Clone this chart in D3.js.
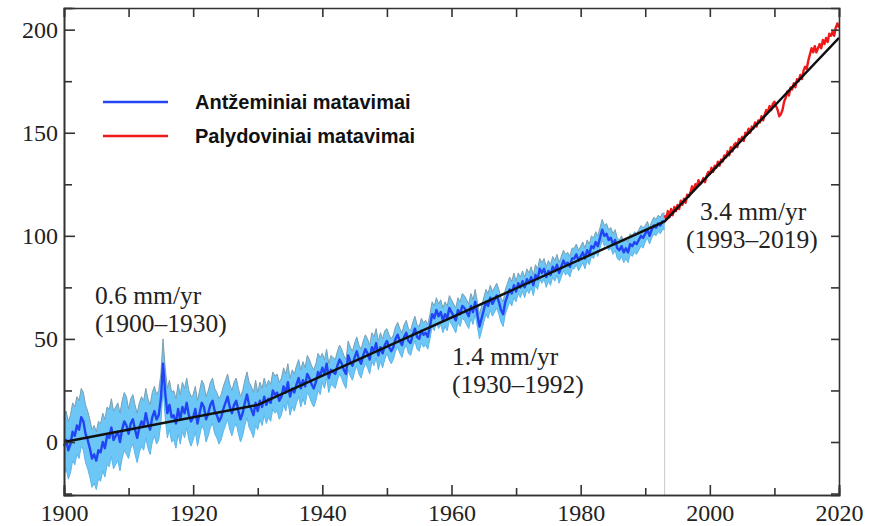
<!DOCTYPE html>
<html>
<head>
<meta charset="utf-8">
<script src="https://cdn.jsdelivr.net/npm/d3@7"></script>
<style>
  html, body { margin: 0; padding: 0; background: #fff; }
  svg { display: block; }
</style>
</head>
<body>
<svg id="chart" width="874" height="526"></svg>
<script>
// Global mean sea level, mm. Tide-gauge reconstruction (3 samples per year from 1900.0)
const tideStart = 1900;
const tideStep = 1 / 3;
const tideValues = [
  -2, 1, -4,   -1, 5, 3,    8, 6, 12,    10, 4, 1,    -3, -8, -6,
  -9, -4, -5,  0, -3, 3,    2, 7, 1,     3, 5, 0,     6, 10, 8,
  4, 9, 11,    6, 2, 7,     10, 8, 14,   9, 6, 12,    15, 11, 13,
  21, 38, 24,  14, 18, 12,  13, 9, 16,   11, 17, 14,  19, 13, 10,
  12, 16, 9,   14, 19, 17,  11, 14, 18,  20, 15, 13,  10, 12, 16,
  19, 22, 17,  14, 18, 20,  15, 11, 14,  19, 23, 18,  16, 13, 19,
  15, 20, 17,  22, 18, 21,  19, 25, 23,  24, 20, 22,  27, 24, 29,
  22, 26, 24,  28, 31, 26,  30, 27, 33,  31, 28, 26,  29, 34, 32,
  36, 33, 38,  31, 35, 34,  33, 37, 40,  38, 35, 33,  42, 39, 37,
  41, 44, 40,  38, 42, 45,  43, 40, 46,  44, 48, 42,  46, 43, 47,
  49, 46, 44,  46, 50, 52,  49, 47, 51,  53, 49, 48,  52, 55, 51,
  50, 54, 52,  53, 51, 56,  62, 60, 64,  61, 63, 59,  62, 60, 65,
  63, 61, 59,  64, 62, 66,  65, 63, 61,  66, 63, 68,  62, 56, 60,
  64, 68, 66,  70, 67, 69,  71, 68, 64,  62, 68, 71,  74, 72, 76,
  73, 77, 75,  78, 75, 79,  77, 80, 76,  81, 79, 84,  82, 84, 80,
  83, 81, 85,  83, 86, 82,  85, 88, 86,  87, 85, 89,  89, 91, 88,
  90, 92, 89,  93, 91, 95,  94, 97, 95,  99, 103, 100, 101, 98, 99,
  96, 98, 94,  93, 95, 92,  94, 92, 96,  95, 97, 96,  98, 100, 99,
  101, 103, 100, 103, 105, 104, 106, 105, 107,
  107
];
// One-sigma uncertainty of the reconstruction, by decade (1900s ... 1990s)
const tideSigma = [14, 12, 11, 9, 7, 6, 6, 5, 5, 4];

// Satellite altimetry (quarterly from 1993.0)
const satStart = 1993;
const satStep = 0.25;
const satValues = [
  110, 108, 112, 109,  113, 110, 114, 112,  115, 113, 117, 115,
  118, 116, 120, 119,  121, 124, 122, 125,  124, 127, 125, 126,
  128, 126, 129, 131,  130, 133, 131, 134,  133, 136, 134, 137,
  136, 139, 138, 141,  139, 143, 141, 144,  145, 143, 147, 146,
  148, 146, 150, 149,  152, 150, 153, 152,  155, 153, 156, 155,
  158, 156, 159, 161,  160, 163, 161, 164,  165, 163, 161, 158,
  159, 161, 165, 167,  170, 168, 172, 171,  174, 172, 176, 175,
  178, 176, 180, 182,  181, 185, 188, 191,  189, 192, 189, 191,
  193, 191, 195, 193,  196, 194, 198, 197,  199, 197, 201, 203,
  201
];

// Piecewise linear trends
const trendYears  = [1900, 1930, 1993, 2020];
const trendValues = [0, 18, 107, 196];

// Rate annotations
const rateLines = [
  ["0.6 mm/yr", "(1900\u20131930)"],
  ["1.4 mm/yr", "(1930\u20131992)"],
  ["3.4 mm/yr", "(1993\u20132019)"]
];

const legendLabels = ["Ant\u017eeminiai matavimai", "Palydoviniai matavimai"];
const legendColors = ["#2145f5", "#f01818"];

const xTicks = [1900, 1920, 1940, 1960, 1980, 2000, 2020];
const xMinor = [1910, 1930, 1950, 1970, 1990, 2010];
const yTicks = [0, 50, 100, 150, 200];
const yMinor = [-25, 25, 75, 125, 175];

// ---- layout ----
const svg = d3.select("#chart");
const padL = 64, padR = 839, padT = 8, padB = 495;

const x = d3.scaleLinear().domain([1900, 2020]).range([padL, padR]);
const y = d3.scaleLinear().domain([-25.7, 210.5]).range([padB, padT]);

const tide = tideValues.map((v, i) => {
  const t = tideStart + i * tideStep;
  const d = Math.min(tideSigma.length - 1, Math.max(0, Math.floor((t - 1900) / 10)));
  return { t, v, s: tideSigma[d] };
});
const sat = satValues.map((v, i) => ({ t: satStart + i * satStep, v }));
const trend = trendYears.map((t, i) => ({ t, v: trendValues[i] }));

const plot = svg.append("g");

// Reference line at the start of the altimetry era
plot.append("line")
  .attr("x1", x(1993)).attr("x2", x(1993))
  .attr("y1", y(trendValues[2])).attr("y2", padB)
  .attr("stroke", "#c8c8c8").attr("stroke-width", 1);

// Uncertainty band
plot.append("path")
  .datum(tide)
  .attr("d", d3.area().x(d => x(d.t)).y0(d => y(d.v - d.s)).y1(d => y(d.v + d.s)))
  .attr("fill", "#6cc6f6");
plot.append("path")
  .datum(tide)
  .attr("d", d3.line().x(d => x(d.t)).y(d => y(d.v + d.s)))
  .attr("fill", "none").attr("stroke", "#7c9fb0").attr("stroke-width", 1);
plot.append("path")
  .datum(tide)
  .attr("d", d3.line().x(d => x(d.t)).y(d => y(d.v - d.s)))
  .attr("fill", "none").attr("stroke", "#5ab6ea").attr("stroke-width", 1);

// Tide-gauge series
plot.append("path")
  .datum(tide)
  .attr("d", d3.line().x(d => x(d.t)).y(d => y(d.v)))
  .attr("fill", "none").attr("stroke", legendColors[0])
  .attr("stroke-width", 2.4).attr("stroke-linejoin", "round");

// Satellite series
plot.append("path")
  .datum(sat)
  .attr("d", d3.line().x(d => x(d.t)).y(d => y(d.v)))
  .attr("fill", "none").attr("stroke", legendColors[1])
  .attr("stroke-width", 2.4).attr("stroke-linejoin", "round");

// Trend segments
plot.append("path")
  .datum(trend)
  .attr("d", d3.line().x(d => x(d.t)).y(d => y(d.v)))
  .attr("fill", "none").attr("stroke", "#111").attr("stroke-width", 2.4);

// ---- axes (ticks pointing inward on all four sides) ----
function styleAxis(g) {
  g.select(".domain").attr("stroke", "#333").attr("stroke-width", 1.6);
  g.selectAll(".tick line").attr("stroke", "#333").attr("stroke-width", 1.6);
  g.selectAll("text")
    .attr("font-family", "'Liberation Serif', 'Times New Roman', serif")
    .attr("font-size", 24).attr("fill", "#222");
}

svg.append("g").attr("transform", `translate(0,${padB})`)
  .call(d3.axisBottom(x).tickValues(xMinor).tickSize(-7).tickFormat(""))
  .call(styleAxis);
svg.append("g").attr("transform", `translate(0,${padB})`)
  .call(d3.axisBottom(x).tickValues(xTicks).tickSize(-10).tickPadding(9).tickFormat(d3.format("d")))
  .call(styleAxis);

svg.append("g").attr("transform", `translate(${padL},0)`)
  .call(d3.axisLeft(y).tickValues(yMinor).tickSize(-8).tickFormat(""))
  .call(styleAxis);
svg.append("g").attr("transform", `translate(${padL},0)`)
  .call(d3.axisLeft(y).tickValues(yTicks).tickSize(-11).tickPadding(6).tickFormat(d3.format("d")))
  .call(styleAxis);

svg.append("g").attr("transform", `translate(0,${padT})`)
  .call(d3.axisTop(x).tickValues(xTicks.concat(xMinor)).tickSize(-9).tickFormat(""))
  .call(styleAxis);
svg.append("g").attr("transform", `translate(${padR},0)`)
  .call(d3.axisRight(y).tickValues(yTicks.concat(yMinor)).tickSize(-8).tickFormat(""))
  .call(styleAxis);

// ---- rate annotations ----
const annPos = [[95, 304], [452, 365], [686, 220]];
rateLines.forEach((lines, i) => {
  lines.forEach((line, j) => {
    svg.append("text")
      .attr("x", annPos[i][0] + (i === 2 && j === 0 ? 14 : 0))
      .attr("y", annPos[i][1] + j * 28)
      .attr("font-family", "'Liberation Serif', 'Times New Roman', serif")
      .attr("font-size", 25.5).attr("fill", "#222")
      .text(line);
  });
});

// ---- legend ----
legendLabels.forEach((label, i) => {
  const ly = 102 + i * 34;
  svg.append("line")
    .attr("x1", 103).attr("x2", 168).attr("y1", ly).attr("y2", ly)
    .attr("stroke", legendColors[i]).attr("stroke-width", 2.6);
  svg.append("text")
    .attr("x", 195).attr("y", ly + 7)
    .attr("font-family", "'Liberation Sans', Arial, sans-serif")
    .attr("font-weight", "bold").attr("font-size", 20).attr("fill", "#111")
    .text(label);
});
</script>
</body>
</html>
